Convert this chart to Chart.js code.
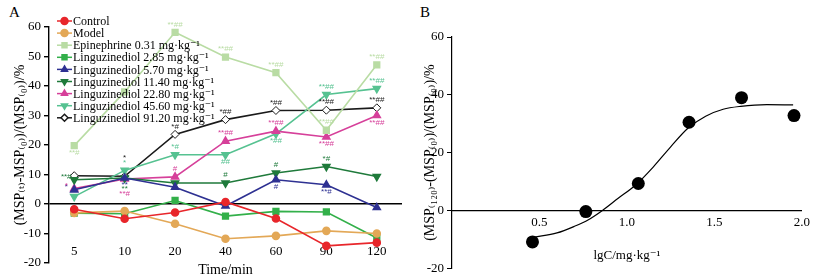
<!DOCTYPE html>
<html lang="en">
<head>
    <meta charset="UTF-8">
    <title>MSP chart</title>
    <script src="https://cdn.jsdelivr.net/npm/chart.js"></script>
    <style>
        body { margin: 0; padding: 0; background: #fff; width: 814px; height: 279px; position: relative; overflow: hidden; }
        canvas { position: absolute; top: 0; }
        #chartA { left: 0; }
        #chartB { left: 420px; }
        .tag { position: absolute; font-family: 'Liberation Serif', serif; font-size: 15px; color: #000; }
    </style>
</head>
<body>
    <div class="tag" style="left:9px; top:4px;">A</div>
    <div class="tag" style="left:420px; top:4px;">B</div>
    <canvas id="chartA" width="420" height="279"></canvas>
    <canvas id="chartB" width="394" height="279"></canvas>
    <script>
        // Panel A: change of MSP over time
        const times = ['5', '10', '20', '40', '60', '90', '120'];
        const control = [-1.8, -5.0, -2.9, 0.7, -4.9, -14.2, -13.1];
        const model = [-3.0, -2.4, -6.7, -11.8, -10.8, -9.1, -10.0];
        const epinephrine = [19.8, 38.0, 58.2, 49.8, 44.5, 25.0, 47.2];
        const ling285 = [-3.1, -3.3, 1.2, -4.1, -2.5, -2.7, -11.5];
        const ling570 = [4.8, 8.8, 5.7, -0.7, 8.2, 6.5, -1.2];
        const ling1140 = [8.2, 8.8, 7.1, 7.1, 10.5, 12.7, 9.3];
        const ling2280 = [5.2, 8.5, 9.2, 21.3, 24.7, 22.7, 30.0];
        const ling4560 = [2.5, 11.4, 16.7, 16.7, 23.8, 37.1, 39.1];
        const ling9120 = [9.6, 9.4, 23.6, 28.6, 31.7, 31.8, 32.6];

        // significance marks next to the points
        const epiNotes = ['**#', '', '**##', '**##', '**##', '**##', '**##'];
        const epiSide = ['b', '', 'a', 'a', 'a', 'a', 'a'];
        const n570Notes = ['*', '**', '', '', '#', '**#', ''];
        const n570Side = ['l', 'b', '', '', 'b', 'b', ''];
        const n1140Notes = ['**#', '**', '', '#', '#', '*#', ''];
        const n1140Side = ['l', 'b2', '', 'a', 'a', 'a', ''];
        const n2280Notes = ['*', '**#', '#', '**##', '**##', '**##', '**##'];
        const n2280Side = ['l', 'b3', 'a', 'a', 'a', 'b', 'b'];
        const n4560Notes = ['', '*', '*#', '##', '*##', '**##', '**##'];
        const n4560Side = ['', 'a', 'a', 'b', 'b', 'a', 'a'];
        const n9120Notes = ['', '*', '*#', '*##', '*##', '**##', '**##'];
        const n9120Side = ['', 'a2', 'a', 'a', 'a', 'a', 'a'];

        // Panel B: dose response at 120 min
        const doseLg = [0.46, 0.765, 1.065, 1.355, 1.655, 1.955];
        const response = [-10.9, -0.4, 9.3, 30.5, 39.0, 32.8];
        const fitLg = [0.47, 0.6, 0.7, 0.78, 0.86, 0.95, 1.05, 1.15, 1.25, 1.35, 1.45, 1.55, 1.65, 1.8, 1.95];
        const fitVal = [-9.2, -7.8, -5.5, -3.2, 0, 4.2, 8.8, 15.0, 22.0, 28.5, 32.6, 35.0, 36.0, 36.6, 36.5];

        const serif = "'Liberation Serif', 'DejaVu Serif', serif";

        function series(label, data, color, style, rot, extra) {
            return Object.assign({
                label: label,
                data: data,
                borderColor: color,
                backgroundColor: color,
                pointBackgroundColor: color,
                pointBorderColor: color,
                pointStyle: style,
                pointRotation: rot,
                pointRadius: style === 'circle' ? 3.5 : 4,
                borderWidth: 1.6,
                tension: 0,
                fill: false
            }, extra || {});
        }

        const insideLegend = {
            id: 'insideLegend',
            afterDraw(chart, args, opts) {
                const ctx = chart.ctx;
                ctx.save();
                ctx.font = opts.font;
                ctx.textBaseline = 'middle';
                chart.data.datasets.forEach((ds, i) => {
                    const y = opts.y + i * opts.rowHeight;
                    ctx.strokeStyle = ds.borderColor;
                    ctx.lineWidth = 1.5;
                    ctx.beginPath();
                    ctx.moveTo(opts.x, y);
                    ctx.lineTo(opts.x + 15, y);
                    ctx.stroke();
                    ctx.fillStyle = ds.pointBackgroundColor;
                    ctx.strokeStyle = ds.pointBorderColor;
                    Chart.helpers.drawPoint(ctx, {
                        pointStyle: ds.pointStyle, rotation: ds.pointRotation || 0,
                        radius: 3.5, borderWidth: 1
                    }, opts.x + 7.5, y);
                    ctx.fillStyle = '#000';
                    ctx.fillText(ds.label, opts.x + 16, y + 1);
                });
                ctx.restore();
            }
        };

        const noteOffsets = { a: [0, -8], a2: [0, -18], b: [0, 7], b2: [0, 11], b3: [0, 15], l: [-8, -3] };
        const pointNotes = {
            id: 'pointNotes',
            afterDatasetsDraw(chart) {
                const ctx = chart.ctx;
                ctx.save();
                ctx.font = "8px 'Liberation Sans', sans-serif";
                ctx.textAlign = 'center';
                ctx.textBaseline = 'middle';
                chart.data.datasets.forEach((ds, i) => {
                    if (!ds.notes) return;
                    const meta = chart.getDatasetMeta(i);
                    meta.data.forEach((pt, j) => {
                        const t = ds.notes[j];
                        if (!t) return;
                        const off = noteOffsets[ds.noteSide[j]];
                        ctx.fillStyle = ds.borderColor;
                        ctx.fillText(t, pt.x + off[0], pt.y + off[1]);
                    });
                });
                ctx.restore();
            }
        };

        new Chart(document.getElementById('chartA'), {
            type: 'line',
            data: {
                labels: times,
                datasets: [
                    series('Control', control, '#e8262b', 'circle', 0),
                    series('Model', model, '#e3a857', 'circle', 0),
                    series('Epinephrine 0.31 mg·kg⁻¹', epinephrine, '#b9dca4', 'rect', 0, { notes: epiNotes, noteSide: epiSide }),
                    series('Linguzinediol 2.85 mg·kg⁻¹', ling285, '#33b04a', 'rect', 0),
                    series('Linguzinediol 5.70 mg·kg⁻¹', ling570, '#2e3192', 'triangle', 0, { notes: n570Notes, noteSide: n570Side }),
                    series('Linguzinediol 11.40 mg·kg⁻¹', ling1140, '#1f7a3b', 'triangle', 180, { notes: n1140Notes, noteSide: n1140Side }),
                    series('Linguzinediol 22.80 mg·kg⁻¹', ling2280, '#d6409a', 'triangle', 0, { notes: n2280Notes, noteSide: n2280Side }),
                    series('Linguzinediol 45.60 mg·kg⁻¹', ling4560, '#56c291', 'triangle', 180, { notes: n4560Notes, noteSide: n4560Side }),
                    series('Linguzinediol 91.20 mg·kg⁻¹', ling9120, '#1a1a1a', 'rectRot', 0,
                        { pointBackgroundColor: '#fff', pointBorderColor: '#1a1a1a', pointBorderWidth: 1, notes: n9120Notes, noteSide: n9120Side })
                ]
            },
            options: {
                responsive: false,
                animation: false,
                layout: { padding: { left: 12, top: 27, right: 18, bottom: 2 } },
                plugins: {
                    legend: { display: false },
                    tooltip: { enabled: false },
                    insideLegend: { x: 57, y: 21, rowHeight: 12.1, font: "12px " + serif }
                },
                scales: {
                    x: {
                        offset: true,
                        grid: { display: false, drawTicks: false },
                        border: { display: false },
                        ticks: { mirror: true, padding: 4, color: '#000', font: { family: serif, size: 13 } },
                        title: { display: true, text: 'Time/min', color: '#000', padding: 0, font: { family: serif, size: 14, lineHeight: 1 } },
                        afterFit(scale) { scale.height = 14; }
                    },
                    y: {
                        min: -20,
                        max: 60,
                        ticks: { stepSize: 10, color: '#000', padding: 3, font: { family: serif, size: 13 } },
                        grid: {
                            color: c => c.tick && c.tick.value === 0 ? '#000' : 'rgba(0,0,0,0)',
                            lineWidth: 1.4,
                            tickColor: '#000',
                            tickLength: 5
                        },
                        border: { color: '#000', width: 1.4 },
                        title: { display: true, text: '(MSP₍ₜ₎-MSP₍₀₎)/(MSP₍₀₎)/%', color: '#000', padding: 0, font: { family: serif, size: 14 } },
                        afterFit(scale) { scale.width = 37; }
                    }
                }
            },
            plugins: [insideLegend, pointNotes]
        });

        const doseData = doseLg.map((x, i) => ({ x: x, y: response[i] }));
        const fitData = fitLg.map((x, i) => ({ x: x, y: fitVal[i] }));

        new Chart(document.getElementById('chartB'), {
            type: 'scatter',
            data: {
                datasets: [
                    { data: doseData, pointRadius: 6.5, pointBackgroundColor: '#000', pointBorderWidth: 0 },
                    { type: 'line', data: fitData, borderColor: '#000', borderWidth: 1.2, pointRadius: 0, cubicInterpolationMode: 'monotone', fill: false }
                ]
            },
            options: {
                responsive: false,
                animation: false,
                layout: { padding: { left: 2, top: 37, right: 11, bottom: 10 } },
                plugins: { legend: { display: false }, tooltip: { enabled: false } },
                scales: {
                    x: {
                        type: 'linear',
                        min: 0,
                        max: 2,
                        position: { y: 0 },
                        grid: { display: false, drawTicks: false },
                        border: { color: '#000', width: 1.2 },
                        ticks: {
                            stepSize: 0.5, color: '#000', padding: 4,
                            font: { family: serif, size: 13 },
                            callback: v => v === 0 ? '' : v.toFixed(1)
                        },
                        title: { display: true, text: 'lgC/mg·kg⁻¹', color: '#000', padding: { top: 14 }, font: { family: serif, size: 13 } }
                    },
                    y: {
                        min: -20,
                        max: 60,
                        ticks: { stepSize: 20, color: '#000', padding: 3, font: { family: serif, size: 13 } },
                        grid: { drawOnChartArea: false, tickColor: '#000', tickLength: 5 },
                        border: { color: '#000', width: 1.2 },
                        title: { display: true, text: '(MSP₍₁₂₀₎-(MSP₍₀₎)/(MSP₍₀₎)/%', color: '#000', padding: 0, font: { family: serif, size: 14 } },
                        afterFit(scale) { scale.width = 30; }
                    }
                }
            }
        });
    </script>
</body>
</html>
